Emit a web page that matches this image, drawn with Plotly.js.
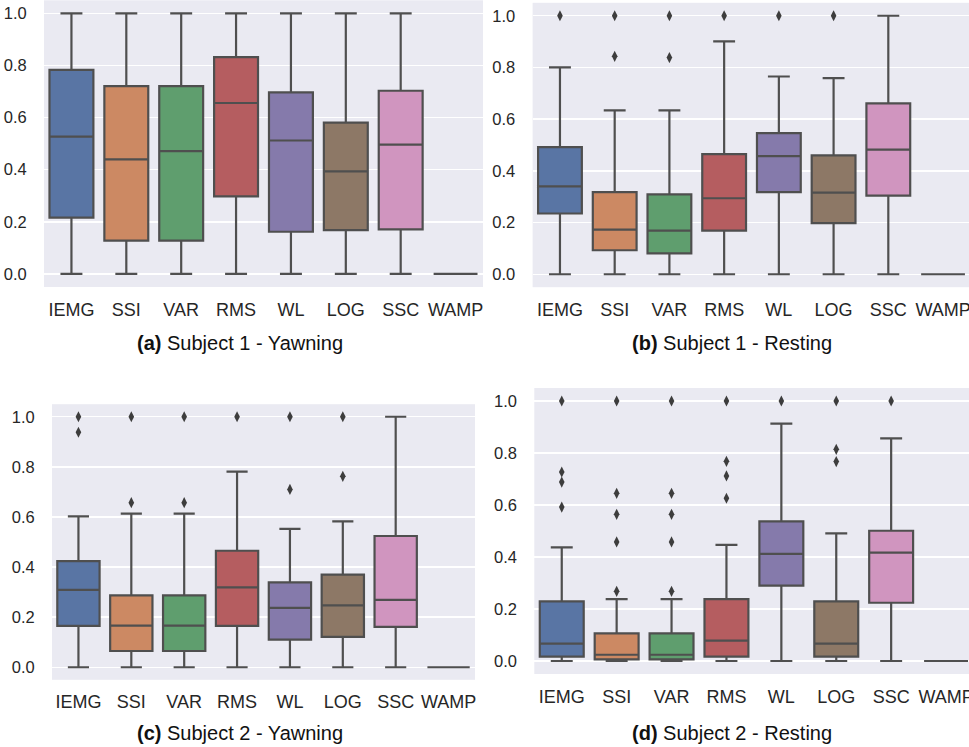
<!DOCTYPE html>
<html>
<head>
<meta charset="utf-8">
<script src="https://cdn.plot.ly/plotly-3.0.1.min.js"></script>
<style>html,body{margin:0;padding:0;overflow:hidden;background:#fff;}</style>
</head>
<body>
<div id="chart" style="width:975px;height:747px;"></div>
<script>
const categories = ["IEMG", "SSI", "VAR", "RMS", "WL", "LOG", "SSC", "WAMP"];
const colors = ["#5975a4", "#cc8963", "#5f9e6e", "#b55d60", "#857aab", "#8d7866", "#d095bf", "#8c8c8c"];
const yTickVals = [0, 0.2, 0.4, 0.6, 0.8, 1.0];
const yTickText = ["0.0", "0.2", "0.4", "0.6", "0.8", "1.0"];

// (a) Subject 1 - Yawning
const aLo  = [0, 0, 0, 0, 0, 0, 0, 0];
const aQ1  = [0.216, 0.128, 0.128, 0.298, 0.162, 0.168, 0.171, 0];
const aMed = [0.527, 0.440, 0.471, 0.656, 0.512, 0.394, 0.496, 0];
const aQ3  = [0.783, 0.721, 0.721, 0.832, 0.697, 0.581, 0.703, 0];
const aHi  = [1, 1, 1, 1, 1, 1, 1, 0];
const aOutX = [];
const aOutY = [];

// (b) Subject 1 - Resting
const bLo  = [0, 0, 0, 0, 0, 0, 0, 0];
const bQ1  = [0.235, 0.093, 0.081, 0.169, 0.318, 0.198, 0.304, 0];
const bMed = [0.340, 0.173, 0.169, 0.294, 0.457, 0.316, 0.482, 0];
const bQ3  = [0.492, 0.318, 0.309, 0.465, 0.546, 0.460, 0.661, 0];
const bHi  = [0.800, 0.634, 0.634, 0.901, 0.765, 0.759, 1.0, 0];
const bOutX = ["IEMG", "SSI", "SSI", "VAR", "VAR", "RMS", "WL", "LOG"];
const bOutY = [1.0, 1.0, 0.843, 1.0, 0.838, 1.0, 1.0, 1.0];

// (c) Subject 2 - Yawning
const cLo  = [0, 0, 0, 0, 0, 0, 0, 0];
const cQ1  = [0.165, 0.065, 0.065, 0.165, 0.110, 0.121, 0.161, 0];
const cMed = [0.309, 0.166, 0.166, 0.319, 0.237, 0.247, 0.269, 0];
const cQ3  = [0.424, 0.287, 0.287, 0.465, 0.339, 0.370, 0.524, 0];
const cHi  = [0.602, 0.613, 0.613, 0.781, 0.552, 0.582, 1.0, 0];
const cOutX = ["IEMG", "IEMG", "SSI", "SSI", "VAR", "VAR", "RMS", "WL", "WL", "LOG", "LOG"];
const cOutY = [1.0, 0.938, 1.0, 0.657, 1.0, 0.657, 1.0, 1.0, 0.710, 1.0, 0.762];

// (d) Subject 2 - Resting
const dLo  = [0, 0, 0, 0, 0, 0, 0, 0];
const dQ1  = [0.017, 0.006, 0.006, 0.017, 0.290, 0.017, 0.224, 0];
const dMed = [0.067, 0.024, 0.024, 0.078, 0.412, 0.067, 0.417, 0];
const dQ3  = [0.229, 0.106, 0.106, 0.238, 0.537, 0.229, 0.501, 0];
const dHi  = [0.437, 0.238, 0.238, 0.447, 0.913, 0.491, 0.856, 0];
const dOutX = ["IEMG", "IEMG", "IEMG", "IEMG",
               "SSI", "SSI", "SSI", "SSI", "SSI",
               "VAR", "VAR", "VAR", "VAR", "VAR",
               "RMS", "RMS", "RMS", "RMS",
               "WL", "LOG", "LOG", "LOG", "SSC"];
const dOutY = [1.0, 0.727, 0.688, 0.592,
               1.0, 0.645, 0.564, 0.458, 0.268,
               1.0, 0.645, 0.564, 0.458, 0.268,
               1.0, 0.768, 0.712, 0.626,
               1.0, 1.0, 0.814, 0.767, 1.0];

const panels = [
  {lo: aLo, q1: aQ1, med: aMed, q3: aQ3, hi: aHi, ox: aOutX, oy: aOutY, ax: "", title: "<b>(a)</b> Subject 1 - Yawning"},
  {lo: bLo, q1: bQ1, med: bMed, q3: bQ3, hi: bHi, ox: bOutX, oy: bOutY, ax: "2", title: "<b>(b)</b> Subject 1 - Resting"},
  {lo: cLo, q1: cQ1, med: cMed, q3: cQ3, hi: cHi, ox: cOutX, oy: cOutY, ax: "3", title: "<b>(c)</b> Subject 2 - Yawning"},
  {lo: dLo, q1: dQ1, med: dMed, q3: dQ3, hi: dHi, ox: dOutX, oy: dOutY, ax: "4", title: "<b>(d)</b> Subject 2 - Resting"}
];

const W = 975, H = 747;
// pixel geometry of each plot area [left, right, top, bottom]
const geom = [
  [44, 483, 0.3, 287],
  [532.6, 970.4, 2.8, 287.2],
  [52, 475, 404.2, 679.8],
  [534.3, 973.5, 388, 674]
];
const captionPos = [[240, 343], [732, 343], [240, 733], [732, 733]];

const lineColor = "#4f4f4f";
const traces = [];
const layout = {
  width: W, height: H,
  margin: {l: 0, r: 0, t: 0, b: 0},
  paper_bgcolor: "#ffffff",
  plot_bgcolor: "#eaeaf2",
  showlegend: false,
  font: {family: "Liberation Sans, Arial, sans-serif", color: "#262626"},
  annotations: []
};

panels.forEach((p, pi) => {
  const xa = "x" + p.ax, ya = "y" + p.ax;
  categories.forEach((c, i) => {
    traces.push({
      type: "box",
      x: [c],
      q1: [p.q1[i]], median: [p.med[i]], q3: [p.q3[i]],
      lowerfence: [p.lo[i]], upperfence: [p.hi[i]],
      fillcolor: colors[i],
      line: {color: lineColor, width: 2.2},
      width: 0.8,
      whiskerwidth: 0.5,
      boxpoints: false,
      hoverinfo: "skip",
      xaxis: xa, yaxis: ya
    });
  });
  if (p.ox.length) {
    traces.push({
      type: "scatter", mode: "markers",
      x: p.ox, y: p.oy,
      marker: {symbol: "diamond-tall", size: 8, color: "#3d3d3d"},
      hoverinfo: "skip",
      xaxis: xa, yaxis: ya
    });
  }
  const g = geom[pi];
  layout["xaxis" + p.ax] = {
    domain: [g[0] / W, g[1] / W],
    anchor: ya,
    type: "category",
    categoryorder: "array",
    categoryarray: categories,
    range: [-0.5, 7.5],
    showgrid: false, zeroline: false, showline: false,
    ticks: "outside", ticklen: 6, tickcolor: "rgba(0,0,0,0)",
    tickfont: {size: 18, color: "#262626", family: "Liberation Sans, Arial, sans-serif"},
    fixedrange: true
  };
  layout["yaxis" + p.ax] = {
    domain: [1 - g[3] / H, 1 - g[2] / H],
    anchor: xa,
    range: [-0.05, 1.05],
    tickvals: yTickVals, ticktext: yTickText,
    showgrid: true, gridcolor: "#ffffff", gridwidth: 1.5,
    zeroline: false, showline: false,
    ticks: "outside", ticklen: 13, tickcolor: "rgba(0,0,0,0)",
    tickfont: {size: 16.5, color: "#262626", family: "Liberation Sans, Arial, sans-serif"},
    fixedrange: true
  };
  layout.annotations.push({
    xref: "paper", yref: "paper",
    x: captionPos[pi][0] / W, y: 1 - captionPos[pi][1] / H,
    xanchor: "center", yanchor: "middle",
    showarrow: false,
    text: p.title,
    font: {size: 20, color: "#111111", family: "Liberation Sans, Arial, sans-serif"}
  });
});

Plotly.newPlot("chart", traces, layout, {staticPlot: true, displayModeBar: false});
</script>
</body>
</html>
